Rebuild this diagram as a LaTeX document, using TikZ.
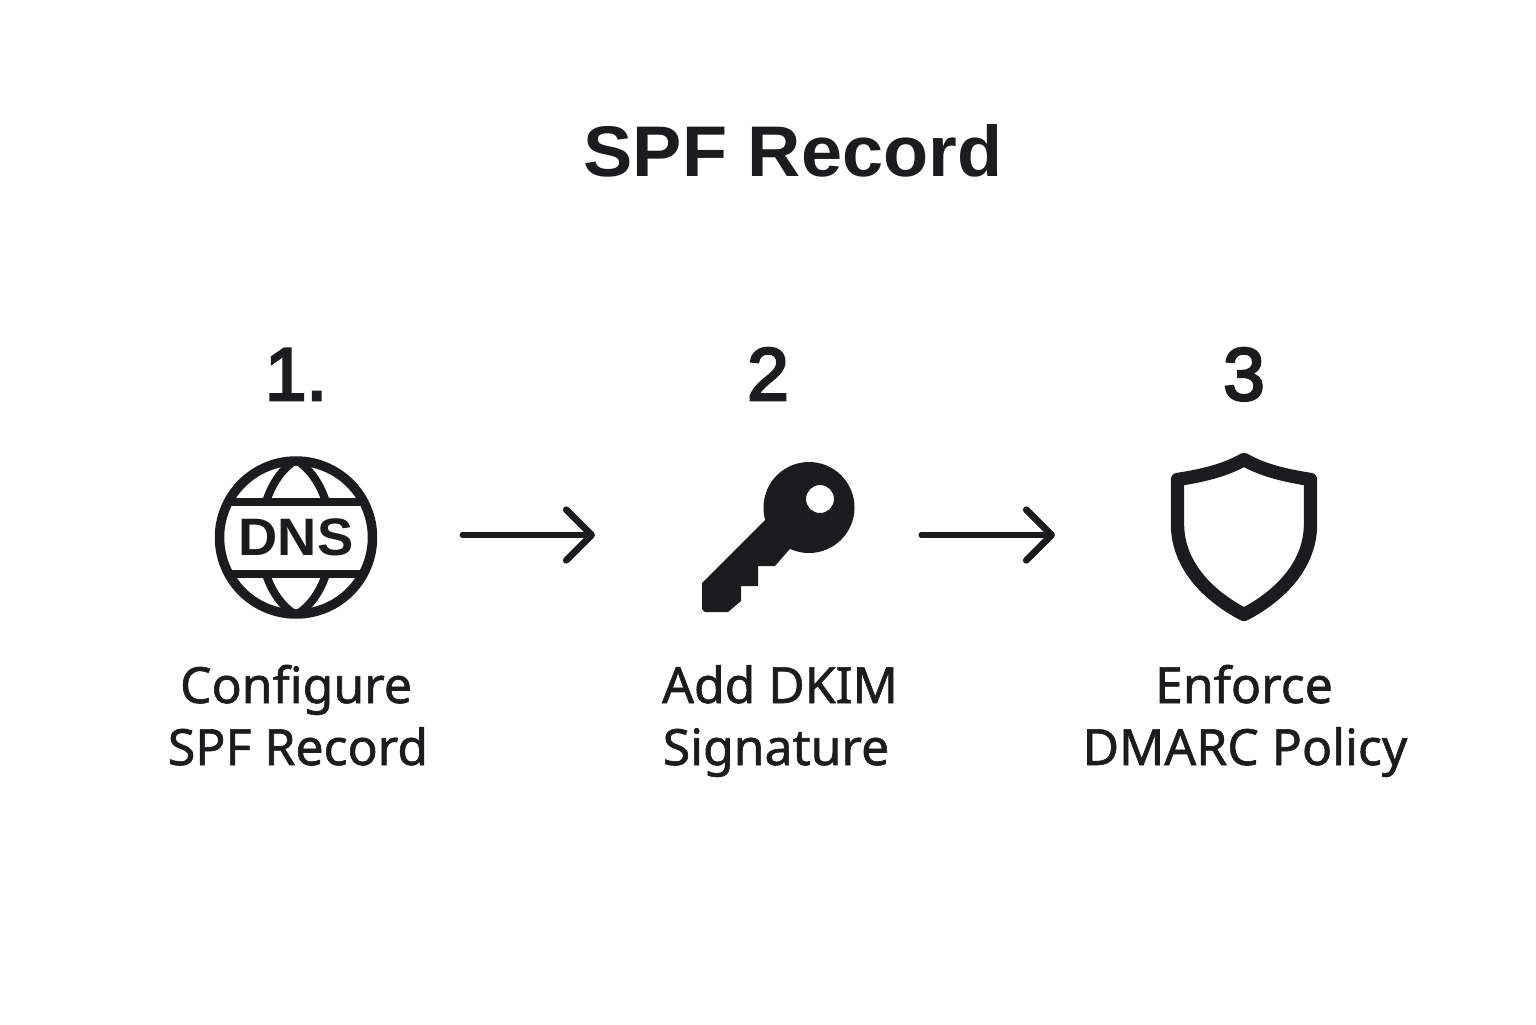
\documentclass[tikz,border=0pt]{standalone}
\usepackage{fontspec}
\setmainfont{Liberation Sans}
\newfontfamily\medfont[FakeBold=1.2]{Noto Sans}
\newfontfamily\numfont[FakeBold=3.5]{Liberation Sans}
\newfontfamily\boldfont[FakeStretch=1.03]{Liberation Sans Bold}
\usetikzlibrary{arrows.meta}
\definecolor{ink}{HTML}{1C1C1E}
\tikzset{
  title/.style={anchor=base,inner sep=0pt,text=ink,font=\fontsize{102}{102}\boldfont},
  num/.style={anchor=base,inner sep=0pt,text=ink,font=\fontsize{106}{106}\numfont},
  lab/.style={anchor=base,inner sep=0pt,text=ink,font=\fontsize{71}{71}\medfont},
  iconbox/.style={inner sep=0pt,minimum width=#1,minimum height=7.5cm},
  globe/.style={circle,draw=ink,line width=13.5pt,inner sep=0pt,minimum size=7.65cm,text=ink,font=\fontsize{75}{75}\boldfont},
  globeline/.style={draw=ink,line width=12.5pt},
  flow/.style={draw=ink,line width=7.5pt,line cap=round,-{Straight Barb[round,length=36pt,width=72pt,line width=9.5pt]}}
}
\begin{document}
\begin{tikzpicture}[x=0.05cm,y=-0.05cm]
\useasboundingbox[fill=white] (0,0) rectangle (1536,1024);
\node[title] (t) at (793,176) {SPF Record};
\node[num] (n1) at (296,400) {1.};
\node[num] (n2) at (768,400) {2};
\node[num] (n3) at (1244,400) {3};
% DNS globe
\node[globe] (dns) at (296,537.5) {DNS};
\begin{scope}
\clip (296,537.5) circle (77);
\draw[globeline] (200,502) -- (392,502) (200,574) -- (392,574);
\draw[globeline,line width=11.5pt]
  (296,460) .. controls (281,469) and (271,486) .. (266,502)
  (296,460) .. controls (311,469) and (321,486) .. (326,502)
  (296,615) .. controls (281,606) and (271,590) .. (266,574)
  (296,615) .. controls (311,606) and (321,590) .. (326,574);
\end{scope}
% Key
\node[iconbox=7.6cm] (key) at (778,535) {};
\fill[ink] (770,515) -- (702,583) -- (702,609) -- (705,612) -- (728,612) -- (741,601) -- (741,586) -- (758,586) -- (758,566) -- (775,566) -- (795,543) -- cycle;
\fill[ink,even odd rule] (809,507.5) circle (45.5) (820,499) circle (14);
% Shield
\node[iconbox=7.3cm] (shield) at (1244,535) {};
\draw[ink,line width=19pt,line join=round] (1244,459.5)
  .. controls (1224,471) and (1200,476) .. (1177.5,479.5)
  -- (1177.5,525)
  .. controls (1178,568) and (1212,598) .. (1244,614.5)
  .. controls (1276,598) and (1310,568) .. (1310.5,525)
  -- (1310.5,479.5)
  .. controls (1288,476) and (1264,471) .. (1244,459.5) -- cycle;
% Arrows
\draw[flow,shorten <=4.25cm,shorten >=5.35cm] (dns.east |- key.west) -- (key.west);
\draw[flow,shorten <=3.35cm,shorten >=5.8cm] (key.east) -- (shield.west);
% Labels
\node[lab] (l1a) at (296,703) {Configure};
\node[lab] (l1b) at (298,765) {SPF Record};
\node[lab] (l2a) at (780,703) {Add DKIM};
\node[lab] (l2b) at (776,765) {Signature};
\node[lab] (l3a) at (1244,703) {Enforce};
\node[lab] (l3b) at (1245,765) {DMARC Policy};
\end{tikzpicture}
\end{document}
